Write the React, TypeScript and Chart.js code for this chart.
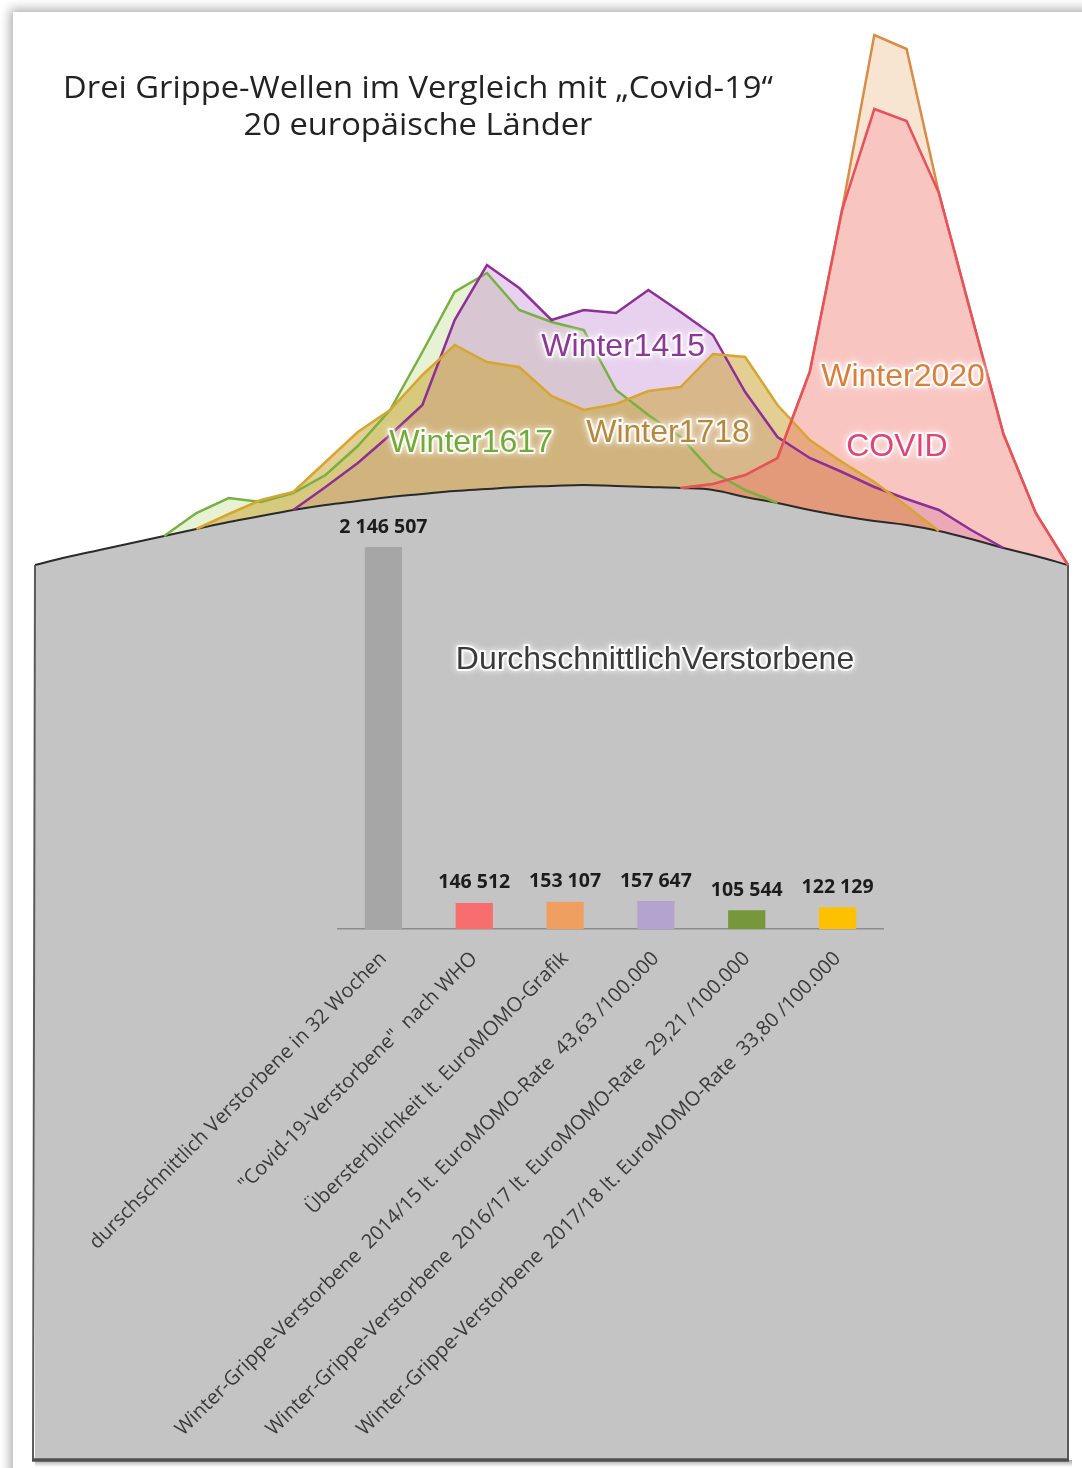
import React, { useEffect, useRef } from 'react';
import Chart from 'chart.js/auto';

// ---------- DATA ----------
const WEEKS = [
  'W40', 'W41', 'W42', 'W43', 'W44', 'W45', 'W46', 'W47', 'W48', 'W49', 'W50', 'W51', 'W52',
  'W1', 'W2', 'W3', 'W4', 'W5', 'W6', 'W7', 'W8', 'W9', 'W10', 'W11', 'W12', 'W13', 'W14',
  'W15', 'W16', 'W17', 'W18', 'W19', 'W20',
];

const BASELINE = [
  89.5, 90.3, 91.0, 91.7, 92.4, 93.1, 93.8, 94.4, 95.0, 95.5, 95.9, 96.3, 96.6, 96.9, 97.1, 97.3, 97.4,
  97.5, 97.4, 97.3, 97.2, 97.0, 96.3, 95.7, 95.0, 94.4, 93.9, 93.5, 92.9, 92.1, 91.2, 90.4, 89.5,
];

const WINTER_1617 = [
  null, null, null, null, 92.4, 94.7, 96.2, 95.8, 96.7, 98.5, 101.4, 105.0, 110.8, 116.8, 118.7, 115.0,
  113.8, 113.0, 107.0, 104.5, 102.3, 98.8, 97.0, 95.7, null, null, null, null, null, null, null, null, null,
];

const WINTER_1415 = [
  null, null, null, null, null, null, null, null, 95.0, 97.3, 99.7, 102.5, 105.5, 114.0, 119.5, 117.2,
  114.0, 115.0, 114.7, 117.0, 114.8, 112.5, 106.8, 102.3, 100.2, 98.8, 97.3, 96.1, 95.0, 93.0, 91.2, null, null,
];

const WINTER_1718 = [
  null, null, null, null, null, 93.1, 94.6, 96.0, 96.8, 99.8, 102.8, 105.0, 108.5, 111.5, 109.8, 109.3,
  106.4, 105.0, 105.6, 106.9, 107.3, 110.6, 110.3, 105.5, 102.0, 99.8, 97.8, 95.4, 92.9, null, null, null, null,
];

const WINTER_2020 = [
  null, null, null, null, null, null, null, null, null, null, null, null, null, null, null, null,
  null, null, null, null, 97.2, 97.6, 98.5, 100.2, 108.8, 125.0, 142.5, 141.1, 126.7, 114.6, 102.6, 94.7, 89.5,
];

const COVID = [
  null, null, null, null, null, null, null, null, null, null, null, null, null, null, null, null,
  null, null, null, null, 97.2, 97.6, 98.5, 100.2, 108.8, 125.0, 135.1, 133.9, 126.7, 114.6, 102.6, 94.7, 89.5,
];

const BAR_LABELS = [
  'durschschnittlich Verstorbene in 32 Wochen',
  '"Covid-19-Verstorbene"  nach WHO',
  'Übersterblichkeit lt. EuroMOMO-Grafik',
  'Winter-Grippe-Verstorbene  2014/15 lt. EuroMOMO-Rate  43,63 /100.000',
  'Winter-Grippe-Verstorbene  2016/17 lt. EuroMOMO-Rate  29,21 /100.000',
  'Winter-Grippe-Verstorbene  2017/18 lt. EuroMOMO-Rate  33,80 /100.000',
];
const BAR_VALUES = [2146507, 146512, 153107, 157647, 105544, 122129];

// ---------- STYLES ----------
const BAR_COLORS = ['#a6a6a6', '#f86e6e', '#ef9f5f', '#b4a2cf', '#76973a', '#ffc000'];

const WAVE_LABELS = [
  { text: 'Winter1415', color: '#8e3796', at: [18.22, 111.3] },
  { text: 'Winter1617', color: '#70ab38', at: [13.51, 101.7] },
  { text: 'Winter1718', color: '#b5883e', at: [19.61, 102.7] },
  { text: 'Winter2020', color: '#d6803c', at: [26.89, 108.3] },
  { text: 'COVID', color: '#e0457a', at: [26.7, 101.3] },
];

const LABEL_FONT = '32px "Liberation Sans", Arial, sans-serif';

function glowText(ctx: CanvasRenderingContext2D, text: string, x: number, y: number, color: string, font: string) {
  ctx.save();
  ctx.font = font;
  ctx.textAlign = 'center';
  ctx.textBaseline = 'middle';
  ctx.lineJoin = 'round';
  ctx.shadowColor = 'rgba(255,255,255,0.95)';
  ctx.shadowBlur = 6;
  ctx.strokeStyle = 'rgba(255,255,255,0.85)';
  ctx.lineWidth = 4;
  ctx.strokeText(text, x, y);
  ctx.shadowBlur = 0;
  ctx.fillStyle = color;
  ctx.fillText(text, x, y);
  ctx.restore();
}

const fmt = (v: number) => String(v).replace(/\B(?=(\d{3})+(?!\d))/g, ' ');

const shapePlugin = {
  id: 'shapeOutline',
  afterDatasetsDraw(chart: any) {
    const ctx = chart.ctx;
    const meta = chart.getDatasetMeta(5);
    const pts = meta.data;
    const first = pts[0];
    const last = pts[pts.length - 1];
    const bottom = chart.scales.y.getPixelForValue(0);
    ctx.save();
    const g = ctx.createLinearGradient(0, bottom, 0, bottom + 7);
    g.addColorStop(0, 'rgba(0,0,0,0.35)');
    g.addColorStop(1, 'rgba(0,0,0,0)');
    ctx.fillStyle = g;
    ctx.fillRect(first.x, bottom, last.x - first.x + 4, 7);
    ctx.strokeStyle = '#5a5a5a';
    ctx.lineWidth = 2;
    ctx.beginPath();
    ctx.moveTo(first.x, first.y);
    ctx.lineTo(first.x - 2, bottom);
    ctx.moveTo(last.x, last.y);
    ctx.lineTo(last.x, bottom);
    ctx.stroke();
    ctx.strokeStyle = '#505050';
    ctx.lineWidth = 3.5;
    ctx.beginPath();
    ctx.moveTo(first.x - 3, bottom);
    ctx.lineTo(last.x + 1, bottom);
    ctx.stroke();
    ctx.restore();
  },
  afterDraw(chart: any) {
    const ctx = chart.ctx;
    const xs = chart.scales.x;
    const ys = chart.scales.y;
    WAVE_LABELS.forEach((l) => {
      glowText(ctx, l.text, xs.getPixelForValue(l.at[0]), ys.getPixelForValue(l.at[1]), l.color, LABEL_FONT);
    });
  },
};

const barLabelPlugin = {
  id: 'barLabels',
  afterDatasetsDraw(chart: any) {
    const ctx = chart.ctx;
    const meta = chart.getDatasetMeta(0);
    ctx.save();
    ctx.font = 'bold 19.5px "Open Sans", sans-serif';
    ctx.fillStyle = '#1c1c1c';
    ctx.textAlign = 'center';
    ctx.textBaseline = 'middle';
    meta.data.forEach((bar: any, i: number) => {
      ctx.fillText(fmt(BAR_VALUES[i]), bar.x, bar.y - 20);
    });
    ctx.restore();
    glowText(ctx, 'DurchschnittlichVerstorbene', 655, 160, '#3a3a3a', '32px "Liberation Sans", Arial, sans-serif');
  },
};

export default function App() {
  const lineRef = useRef<HTMLCanvasElement>(null);
  const barRef = useRef<HTMLCanvasElement>(null);

  useEffect(() => {
    document.body.style.margin = '0';
    const wave = (label: string, data: any[], border: string, fill: string, target: number) => ({
      label,
      data,
      borderColor: border,
      backgroundColor: fill,
      borderWidth: 2.5,
      fill: target,
      tension: 0,
      pointRadius: 0,
      spanGaps: false,
    });
    const lc = new Chart(lineRef.current as HTMLCanvasElement, {
      type: 'line',
      data: {
        labels: WEEKS,
        datasets: [
          wave('COVID', COVID, '#e8505c', 'rgba(240,110,100,0.40)', 5),
          wave('Winter2020', WINTER_2020, '#d98c46', 'rgba(238,190,140,0.40)', 0),
          wave('Winter1718', WINTER_1718, '#d8a62e', 'rgba(200,160,40,0.50)', 5),
          wave('Winter1415', WINTER_1415, '#8e2f98', 'rgba(190,120,210,0.35)', 5),
          wave('Winter1617', WINTER_1617, '#78b042', 'rgba(170,210,100,0.28)', 5),
          {
            label: 'Baseline',
            data: BASELINE,
            borderColor: '#2a2a2a',
            borderWidth: 2,
            backgroundColor: '#c4c4c4',
            fill: 'origin',
            tension: 0.4,
            pointRadius: 0,
          },
        ] as any,
      },
      options: {
        animation: false,
        responsive: false,
        maintainAspectRatio: false,
        layout: { padding: { left: 35, right: 14, top: 0, bottom: 8 } },
        scales: {
          x: { display: false },
          y: { display: false, min: 0, max: 146 },
        },
        plugins: {
          legend: { display: false },
          tooltip: { enabled: false },
          filler: { drawTime: 'beforeDatasetsDraw' },
        } as any,
      },
      plugins: [shapePlugin],
    });

    const bc = new Chart(barRef.current as HTMLCanvasElement, {
      type: 'bar',
      data: {
        labels: BAR_LABELS,
        datasets: [
          {
            data: BAR_VALUES,
            backgroundColor: BAR_COLORS,
            barPercentage: 0.41,
            categoryPercentage: 1,
          },
        ],
      },
      options: {
        animation: false,
        responsive: false,
        maintainAspectRatio: false,
        layout: { padding: { left: 338, right: 199, top: 2, bottom: 0 } },
        scales: {
          x: {
            grid: { display: false, drawTicks: false },
            border: { display: true, color: '#8c8c8c', width: 1.5 },
            ticks: {
              autoSkip: false,
              maxRotation: 45,
              minRotation: 45,
              padding: 18,
              color: '#3a3a3a',
              font: { family: '"Open Sans", sans-serif', size: 20 },
            },
            afterFit: (s: any) => {
              s.height = 531;
              s.paddingLeft = 0;
              s.paddingRight = 0;
            },
          } as any,
          y: { display: false, min: 0, max: 2400000 },
        },
        plugins: { legend: { display: false }, tooltip: { enabled: false } },
      },
      plugins: [barLabelPlugin],
    });

    return () => {
      lc.destroy();
      bc.destroy();
    };
  }, []);

  return (
    <div style={{ position: 'relative', width: 1082, height: 1468, overflow: 'hidden', background: '#ffffff' }}>
      <div
        style={{
          position: 'absolute',
          left: 13,
          top: 12,
          width: 1090,
          height: 1480,
          background: '#ffffff',
          boxShadow: '0 0 10px 3px rgba(0,0,0,0.32)',
        }}
      />
      <canvas ref={lineRef} width={1082} height={1468} style={{ position: 'absolute', left: 0, top: 0 }} />
      <canvas ref={barRef} width={1082} height={960} style={{ position: 'absolute', left: 0, top: 500 }} />
      <div
        style={{
          position: 'absolute',
          left: 18,
          top: 68,
          width: 800,
          textAlign: 'center',
          fontFamily: '"Open Sans", sans-serif',
          fontSize: 31,
          lineHeight: '37px',
          color: '#222222',
          transform: 'scaleX(1.055)',
          transformOrigin: 'center',
          whiteSpace: 'nowrap',
        }}
      >
        Drei Grippe-Wellen im Vergleich mit „Covid-19“
        <br />
        20 europäische Länder
      </div>
    </div>
  );
}
